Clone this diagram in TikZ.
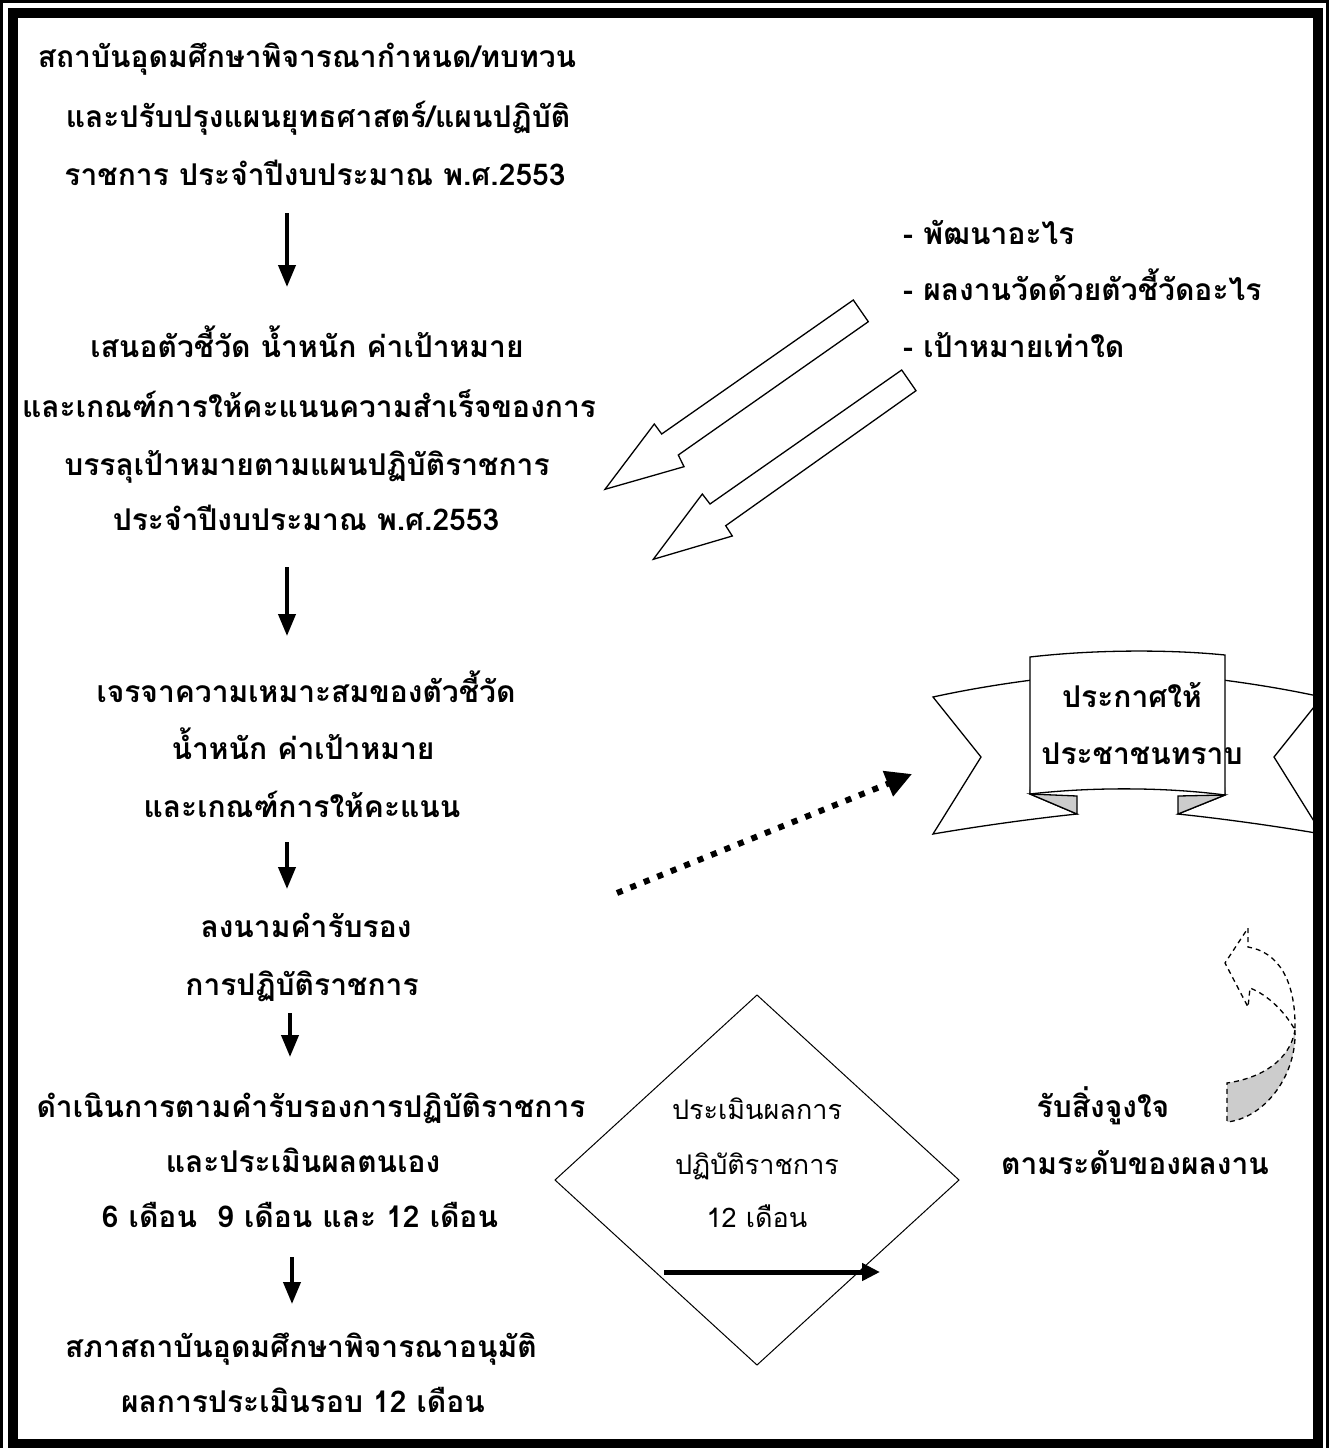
\documentclass[tikz,border=0pt]{standalone}
\usepackage{fontspec}
\newfontfamily\thaifont[Script=Thai]{Loma}
\usetikzlibrary{arrows.meta}
\begin{document}
\begin{tikzpicture}[x=1pt,y=-1pt,
  t/.style={font=\thaifont\bfseries\fontsize{30}{33}\selectfont, inner sep=0pt, text height=22pt, text depth=6.5pt},
  td/.style={font=\thaifont\fontsize{27}{30}\selectfont, inner sep=0pt, text height=20pt, text depth=6pt},
  flow/.style={line width=4pt, -{Triangle[length=22pt,width=17pt]}},
  hollow/.style={draw=black, line width=1.3pt, fill=white, line join=miter},
  rib/.style={draw=black, line width=1.3pt, fill=white},
  fold/.style={draw=black, line width=1.3pt, fill=black!20},
  dsh/.style={draw=black, line width=1.3pt, dash pattern=on 5pt off 4pt}
]
\useasboundingbox (0,0) rectangle (1330,1448);
\clip (0,0) rectangle (1330,1448);

% ---------- left column text ----------
\node[t] (b1a) at (307,60) {สถาบันอุดมศึกษาพิจารณากำหนด/ทบทวน};
\node[t] (b1b) at (318,120) {และปรับปรุงแผนยุทธศาสตร์/แผนปฏิบัติ};
\node[t] (b1c) at (315,178) {ราชการ ประจำปีงบประมาณ พ.ศ.2553};

\node[t] (b2a) at (307,350) {เสนอตัวชี้วัด น้ำหนัก ค่าเป้าหมาย};
\node[t] (b2b) at (309,410) {และเกณฑ์การให้คะแนนความสำเร็จของการ};
\node[t] (b2c) at (307,468) {บรรลุเป้าหมายตามแผนปฏิบัติราชการ};
\node[t] (b2d) at (306,523) {ประจำปีงบประมาณ พ.ศ.2553};

\node[t] (b3a) at (306,695) {เจรจาความเหมาะสมของตัวชี้วัด};
\node[t] (b3b) at (303,752) {น้ำหนัก ค่าเป้าหมาย};
\node[t] (b3c) at (302,810) {และเกณฑ์การให้คะแนน};

\node[t] (b4a) at (306,930) {ลงนามคำรับรอง};
\node[t] (b4b) at (302,988) {การปฏิบัติราชการ};

\node[t] (b5a) at (311,1110) {ดำเนินการตามคำรับรองการปฏิบัติราชการ};
\node[t] (b5b) at (303,1165) {และประเมินผลตนเอง};
\node[t] (b5c) at (300,1220) {6 เดือน\ \ 9 เดือน และ 12 เดือน};

\node[t] (b6a) at (301,1350) {สภาสถาบันอุดมศึกษาพิจารณาอนุมัติ};
\node[t] (b6b) at (303,1405) {ผลการประเมินรอบ 12 เดือน};

% ---------- vertical flow arrows ----------
\coordinate (a1s) at (287,213); \coordinate (a1e) at (287,287);
\coordinate (a2s) at (287,567); \coordinate (a2e) at (287,636);
\coordinate (a3s) at (287,842); \coordinate (a3e) at (287,889);
\coordinate (a4s) at (290,1013); \coordinate (a4e) at (290,1057);
\coordinate (a5s) at (292,1257); \coordinate (a5e) at (292,1304);
\draw[flow] (a1s) -- (a1e);
\draw[flow] (a2s) -- (a2e);
\draw[flow] (a3s) -- (a3e);
\draw[flow] (a4s) -- (a4e);
\draw[flow] (a5s) -- (a5e);

% ---------- right list ----------
\node[t, anchor=west] (l1) at (903,237) {- พัฒนาอะไร};
\node[t, anchor=west] (l2) at (903,293) {- ผลงานวัดด้วยตัวชี้วัดอะไร};
\node[t, anchor=west] (l3) at (903,350) {- เป้าหมายเท่าใด};

% ---------- hollow arrows ----------
\draw[hollow] (853.3,300) -- (868.3,321.7) -- (678.3,455) -- (684,466.7) -- (605,489.3) -- (654.3,424) -- (661.7,434) -- cycle;
\draw[hollow] (901.7,370) -- (916,390.7) -- (725.7,525.7) -- (732.3,536) -- (653.3,559.3) -- (702.3,494) -- (710,504) -- cycle;

% ---------- dotted arrow ----------
\coordinate (ds) at (617,893);
\coordinate (de) at (912,774);
\draw[line width=6pt, dash pattern=on 6pt off 8.5pt, -{Triangle[length=26pt,width=26pt]}] (ds) -- (de);

% ---------- banner ----------
\begin{scope}
\clip (900,600) rectangle (1318,900);
\draw[rib] (1040,679) .. controls (1000,684) and (965,690) .. (933,697) -- (981,757) -- (933,834)
   .. controls (980,826) and (1030,819) .. (1077,814) -- (1030,794) -- cycle;
\draw[rib] (1215,679) .. controls (1255,684) and (1290,690) .. (1322,697) -- (1274,757) -- (1322,834)
   .. controls (1275,826) and (1225,819) .. (1178,814) -- (1225,795) -- cycle;
\draw[fold] (1030,794) -- (1077,796) -- (1077,814) -- cycle;
\draw[fold] (1225,795) -- (1178,796) -- (1178,814) -- cycle;
\draw[rib] (1030,657) .. controls (1090,650) and (1165,649) .. (1225,655) -- (1225,795)
   .. controls (1165,787) and (1090,787) .. (1030,794) -- cycle;
\end{scope}
\node[t] (n1) at (1132,700) {ประกาศให้};
\node[t] (n2) at (1142,757) {ประชาชนทราบ};

% ---------- diamond ----------
\coordinate (dc) at (757,1180);
\draw[line width=1pt] (757,995) -- (959,1180) -- (757,1365) -- (555,1180) -- cycle;
\node[td] (d1) at (757,1112) {ประเมินผลการ};
\node[td] (d2) at (757,1167) {ปฏิบัติราชการ};
\node[td] (d3) at (757,1220) {12 เดือน};
\coordinate (ias) at (664,1272);
\coordinate (iae) at (880,1272);
\draw[line width=5pt, -{Triangle[length=18pt,width=17pt]}] (ias) -- (iae);

% ---------- reward text ----------
\node[t] (r1) at (1103,1110) {รับสิ่งจูงใจ};
\node[t] (r2) at (1135,1167) {ตามระดับของผลงาน};

% ---------- curved dashed arrow ----------
\coordinate (T) at (1248,928);
\coordinate (W1) at (1225,963);
\coordinate (W2) at (1248,1007);
\coordinate (S1) at (1248,947);
\coordinate (S2) at (1250,988);
\coordinate (P) at (1295,1030);
\draw[dsh, fill=white] (T) -- (S1) .. controls (1278,952) and (1296,980) .. (P)
   .. controls (1285,1012) and (1268,995) .. (S2) -- (W2) -- (W1) -- cycle;
\draw[dsh, fill=black!20] (P) .. controls (1297,1075) and (1265,1118) .. (1227,1122) -- (1227,1083)
   .. controls (1262,1078) and (1290,1060) .. (P);

% ---------- border ----------
\draw[line width=3pt] (1.5,1.5) rectangle (1327.5,1460);
\draw[line width=10pt] (12.8,13.3) rectangle (1317.5,1444);
\end{tikzpicture}
\end{document}
